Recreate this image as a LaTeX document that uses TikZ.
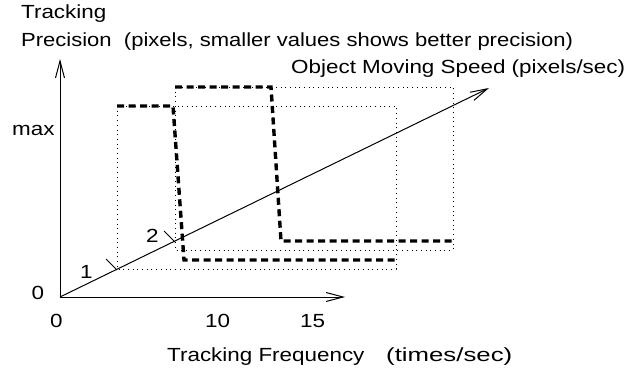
\documentclass[tikz,border=0pt]{standalone}
\usepackage{fontspec}
\setmainfont[FakeStretch=1.18]{Liberation Sans}
\usetikzlibrary{arrows.meta}
\begin{document}
\begin{tikzpicture}[x=1pt,y=-1pt,
  lbl/.style={inner sep=0pt,anchor=base west,font=\fontsize{19}{21}\selectfont},
  axis/.style={line width=1pt,-{Straight Barb[length=17pt,width=9pt,line width=1pt]}},
  frame/.style={line width=1pt,dash pattern=on 1pt off 3.7pt},
  curve/.style={line width=3.4pt,dash pattern=on 7pt off 4.5pt},
  tick/.style={line width=0.9pt}]
\useasboundingbox (0,0) rectangle (633,376);
% axes
\coordinate (O) at (60,297);
\coordinate (Yt) at (60,59);
\coordinate (Xt) at (345,297);
\coordinate (Dt) at (489,88);
\draw[axis] (O) -- (Yt);
\draw[axis] (O) -- (Xt);
\draw[axis] (O) -- (Dt);
% frames
\coordinate (A1) at (117,106); \coordinate (A2) at (396,269);
\coordinate (B1) at (175,87); \coordinate (B2) at (453,250);
\draw[frame] (A1) rectangle (A2);
\draw[frame] (B1) rectangle (B2);
% ticks
\coordinate (P1) at (117,270); \coordinate (T1) at (106,259);
\coordinate (P2) at (175,242); \coordinate (T2) at (164,231);
\draw[tick] (T1) -- (P1);
\draw[tick] (T2) -- (P2);
% curves
\coordinate (ca1) at (117,106); \coordinate (ca2) at (173,106);
\coordinate (ca3) at (184,260); \coordinate (ca4) at (395,260);
\draw[curve] (ca1) -- (ca2) -- (ca3) -- (ca4);
\coordinate (cb1) at (175,87); \coordinate (cb2) at (271,87);
\coordinate (cb3) at (281,241); \coordinate (cb4) at (452,241);
\draw[curve] (cb1) -- (cb2) -- (cb3) -- (cb4);
% labels
\node[lbl] (t1) at (21,18) {Tracking};
\node[lbl] (t2) at (21,46.5) {\scalebox{0.982}[1]{Precision\ \ (pixels, smaller values shows better precision)}};
\node[lbl] (t3) at (291,73) {Object Moving Speed (pixels/sec)};
\node[lbl] (tmax) at (12,135) {max};
\node[lbl] (ty0) at (31.5,299) {0};
\node[lbl] (tn1) at (80,278) {1};
\node[lbl] (tn2) at (146,242) {2};
\node[lbl] (tx0) at (50,327) {0};
\node[lbl] (tx10) at (205,327) {10};
\node[lbl] (tx15) at (300,327) {15};
\node[lbl] (tf) at (167,361) {Tracking Frequency};
\node[lbl] (tfu) at (386,361) {\scalebox{1.15}[1]{(times/sec)}};
\end{tikzpicture}
\end{document}
